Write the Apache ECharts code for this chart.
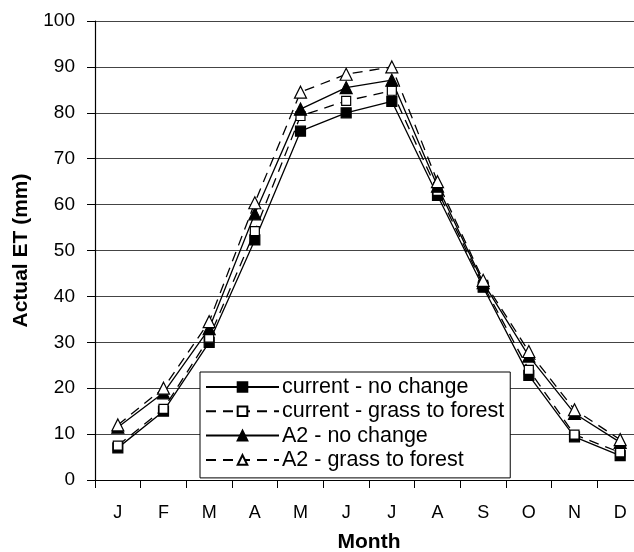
<!DOCTYPE html>
<html>
<head>
<meta charset="utf-8">
<script src="https://cdn.jsdelivr.net/npm/echarts@6/dist/echarts.min.js"></script>
<style>
  html, body { margin: 0; padding: 0; background: #fff; }
  #main { width: 634px; height: 552px; }
</style>
</head>
<body>
<div id="main"></div>
<script>
var months = ['J', 'F', 'M', 'A', 'M', 'J', 'J', 'A', 'S', 'O', 'N', 'D'];
var currentNoChange = [7, 15, 30, 52.3, 76, 80, 82.5, 62, 42, 22.8, 9.4, 5.3];
var currentGrassForest = [7.5, 15.5, 31, 54.2, 79.3, 82.6, 84.8, 63, 42.5, 24, 9.9, 6];
var a2NoChange = [11.5, 19, 33, 58, 80.8, 85.5, 87.1, 64, 43, 27, 14.5, 8.2];
var a2GrassForest = [12, 20, 34.5, 60.4, 84.5, 88.4, 90, 65, 43.5, 28, 15.3, 8.8];

var chart = echarts.init(document.getElementById('main'), null, { renderer: 'canvas' });

function makeSeries(name, data, symbol, filled, dashed, size) {
  return {
    name: name,
    type: 'line',
    data: data,
    symbol: symbol,
    symbolSize: size,
    showAllSymbol: true,
    animation: false,
    lineStyle: { color: '#000', width: 1.3, type: dashed ? [10, 7] : 'solid' },
    itemStyle: { color: filled ? '#000' : '#fff', borderColor: '#000', borderWidth: 1.2 },
    emphasis: { disabled: true }
  };
}

var option = {
  backgroundColor: '#fff',
  textStyle: { fontFamily: 'Liberation Sans, Arial, sans-serif' },
  grid: { left: 95, top: 21, width: 548, height: 459, outerBoundsMode: 'none', containLabel: false },
  legend: {
    orient: 'vertical',
    left: 200,
    top: 372,
    padding: [4, 6, 7, 5],
    itemWidth: 73,
    itemHeight: 12,
    itemGap: 2.3,
    backgroundColor: '#fff',
    borderColor: '#000',
    borderWidth: 1,
    borderRadius: 0,
    textStyle: { fontSize: 21.5, color: '#000', padding: [0, 0, 0, -2] },
    data: ['current - no change', 'current - grass to forest', 'A2 - no change', 'A2 - grass to forest']
  },
  xAxis: {
    type: 'category',
    data: months,
    boundaryGap: true,
    name: 'Month',
    nameLocation: 'middle',
    nameGap: 52,
    nameTextStyle: { fontSize: 21, fontWeight: 'bold', color: '#000' },
    axisLine: { lineStyle: { color: '#000', width: 1.2 } },
    axisTick: { show: true, length: 8, lineStyle: { color: '#000' } },
    axisLabel: { fontSize: 18, color: '#000', margin: 24 },
    splitLine: { show: false }
  },
  yAxis: {
    type: 'value',
    min: 0,
    max: 100,
    interval: 10,
    name: 'Actual ET (mm)',
    nameLocation: 'middle',
    nameGap: 63,
    nameTextStyle: { fontSize: 21, fontWeight: 'bold', color: '#000' },
    axisLine: { show: true, lineStyle: { color: '#000', width: 1.2 } },
    axisTick: { show: true, length: 8, lineStyle: { color: '#000' } },
    axisLabel: { fontSize: 19, color: '#000', margin: 20 },
    splitLine: { show: true, lineStyle: { color: '#444', width: 1 } }
  },
  series: [
    makeSeries('current - no change', currentNoChange, 'rect', true, false, 10),
    makeSeries('current - grass to forest', currentGrassForest, 'rect', false, true, 9),
    makeSeries('A2 - no change', a2NoChange, 'triangle', true, false, 12),
    makeSeries('A2 - grass to forest', a2GrassForest, 'triangle', false, true, 12)
  ]
};

chart.setOption(option);
window.addEventListener('resize', chart.resize);
</script>
</body>
</html>
